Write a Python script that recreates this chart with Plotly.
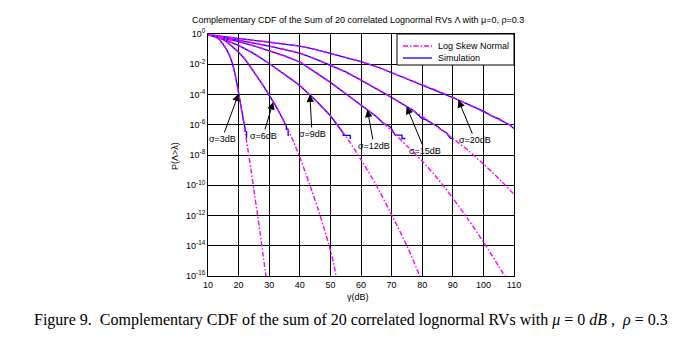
import plotly.graph_objects as go

# ---------------------------------------------------------------
# Complementary CDF curves, gamma in dB, values stored as log10(P)
# ---------------------------------------------------------------
# Log Skew Normal approximation (one curve per sigma)
lsn_x_s3 = [10, 12, 14, 15, 16, 17, 18, 19, 20, 21, 22, 23, 24, 25, 26, 27, 28, 29]
lsn_e_s3 = [-0.02, -0.12, -0.42, -0.68, -1.0, -1.4, -1.95, -2.8, -3.9, -5.1, -6.3,
            -7.6, -8.9, -10.3, -11.7, -13.1, -14.6, -16.1]

lsn_x_s6 = [10, 12, 14, 16, 18, 20, 22, 24, 26, 28, 30, 32, 34, 36, 38, 40, 42, 44,
            46, 48, 50, 51, 52]
lsn_e_s6 = [-0.04, -0.12, -0.26, -0.5, -0.85, -1.2, -1.65, -2.2, -2.8, -3.4, -4.05,
            -4.7, -5.45, -6.25, -7.15, -8.15, -9.25, -10.4, -11.6, -12.9, -14.3,
            -15.1, -16.2]

lsn_x_s9 = [10, 15, 20, 25, 30, 35, 40, 45, 50, 55, 60, 65, 70, 75, 79, 80]
lsn_e_s9 = [-0.05, -0.35, -0.75, -1.3, -1.95, -2.65, -3.4, -4.35, -5.4, -6.75,
            -8.3, -10.0, -11.95, -14.0, -15.9, -16.4]

lsn_x_s12 = [10, 15, 20, 25, 30, 35, 40, 45, 50, 55, 60, 65, 70, 75, 80, 85, 90,
             95, 100, 105, 107.5]
lsn_e_s12 = [-0.05, -0.27, -0.5, -0.78, -1.1, -1.45, -1.85, -2.5, -3.2, -3.95,
             -4.7, -5.45, -6.4, -7.4, -8.4, -9.55, -10.85, -12.25, -13.75, -15.35,
             -16.2]

lsn_x_s15 = [10, 15, 20, 25, 30, 35, 40, 45, 50, 55, 60, 65, 70, 75, 80, 85, 90,
             95, 100, 105, 110]
lsn_e_s15 = [-0.05, -0.22, -0.4, -0.6, -0.8, -1.02, -1.27, -1.65, -2.05, -2.5,
             -3.05, -3.6, -4.2, -4.8, -5.45, -6.15, -6.9, -7.7, -8.6, -9.55, -10.6]

lsn_x_s20 = [10, 15, 20, 25, 30, 35, 40, 45, 50, 55, 60, 65, 70, 75, 80, 85, 90,
             95, 100, 105, 110]
lsn_e_s20 = [-0.04, -0.17, -0.3, -0.42, -0.53, -0.66, -0.8, -1.02, -1.28, -1.55,
             -1.83, -2.15, -2.55, -2.95, -3.35, -3.75, -4.2, -4.65, -5.15, -5.65,
             -6.15]

# Monte-Carlo simulation (stops where the estimate runs out of samples)
sim_x_s3 = [10, 12, 14, 15, 16, 17, 18, 19, 20, 21, 22, 22.3, 22.6, 22.6]
sim_e_s3 = [-0.02, -0.12, -0.42, -0.68, -1.0, -1.4, -1.95, -2.8, -3.9, -5.1, -6.2,
            -6.45, -6.45, -6.9]

sim_x_s6 = [10, 12, 14, 16, 18, 20, 22, 24, 26, 28, 30, 32, 34, 35, 35.6, 35.6,
            36.2, 36.2]
sim_e_s6 = [-0.04, -0.12, -0.26, -0.5, -0.85, -1.2, -1.65, -2.2, -2.8, -3.4, -4.05,
            -4.7, -5.45, -5.85, -6.1, -6.3, -6.3, -6.75]

sim_x_s9 = [10, 15, 20, 25, 30, 35, 40, 45, 50, 52, 54.2, 54.2, 56.5, 56.5]
sim_e_s9 = [-0.05, -0.35, -0.75, -1.3, -1.95, -2.65, -3.4, -4.35, -5.4, -5.95,
            -6.55, -6.7, -6.7, -6.95]

sim_x_s12 = [10, 15, 20, 25, 30, 35, 40, 45, 50, 55, 60, 65, 67, 69.6, 71.2, 73.4,
             73.4, 74.5]
sim_e_s12 = [-0.05, -0.27, -0.5, -0.78, -1.1, -1.45, -1.85, -2.5, -3.2, -3.95,
             -4.7, -5.45, -5.85, -6.15, -6.69, -6.69, -6.91, -6.91]

sim_x_s15 = [10, 15, 20, 25, 30, 35, 40, 45, 50, 55, 60, 65, 70, 75, 77, 80, 81.5,
             83, 85, 86, 88, 89.2, 90]
sim_e_s15 = [-0.05, -0.22, -0.4, -0.6, -0.8, -1.02, -1.27, -1.65, -2.05, -2.5,
             -3.05, -3.6, -4.2, -4.8, -5.05, -5.6, -5.7, -5.9, -6.1, -6.3, -6.55,
             -6.9, -6.9]

sim_x_s20 = [10, 15, 20, 25, 30, 35, 40, 45, 50, 55, 60, 65, 70, 75, 80, 85, 90,
             95, 100, 103, 105, 107, 108.5, 110]
sim_e_s20 = [-0.04, -0.17, -0.3, -0.42, -0.53, -0.66, -0.8, -1.02, -1.28, -1.55,
             -1.83, -2.15, -2.55, -2.95, -3.35, -3.75, -4.2, -4.65, -5.1, -5.45,
             -5.6, -5.85, -6.0, -6.25]

sigma_labels = ["σ=3dB", "σ=6dB", "σ=9dB", "σ=12dB", "σ=15dB", "σ=20dB"]
# arrow tip on each curve (gamma dB, log10 P)
arrow_tip_x = [20.0, 31.3, 43.3, 62.1, 74.9, 91.8]
arrow_tip_e = [-3.95, -4.5, -4.0, -5.0, -4.8, -4.36]

x_ticks = [10, 20, 30, 40, 50, 60, 70, 80, 90, 100, 110]
y_tick_exp = [0, -2, -4, -6, -8, -10, -12, -14, -16]

legend_names = ["Log Skew Normal", "Simulation"]

lsn_sets = [(lsn_x_s3, lsn_e_s3), (lsn_x_s6, lsn_e_s6), (lsn_x_s9, lsn_e_s9),
            (lsn_x_s12, lsn_e_s12), (lsn_x_s15, lsn_e_s15), (lsn_x_s20, lsn_e_s20)]
sim_sets = [(sim_x_s3, sim_e_s3), (sim_x_s6, sim_e_s6), (sim_x_s9, sim_e_s9),
            (sim_x_s12, sim_e_s12), (sim_x_s15, sim_e_s15), (sim_x_s20, sim_e_s20)]

MAGENTA = "#ff00ff"
BLUE = "#0000ff"
SANS = "Liberation Sans, Arial, sans-serif"
DASHDOT = "5px,2px,1.5px,2px"

fig = go.Figure()

for xs, es in sim_sets:
    fig.add_trace(go.Scatter(
        x=xs, y=[10 ** e for e in es], mode="lines",
        line=dict(color=BLUE, width=1.3),
        name=legend_names[1], showlegend=False,
    ))

for xs, es in lsn_sets:
    fig.add_trace(go.Scatter(
        x=xs, y=[10 ** e for e in es], mode="lines",
        line=dict(color=MAGENTA, width=1.4, dash=DASHDOT, shape="spline", smoothing=0.6),
        name=legend_names[0], showlegend=False,
    ))

# plot-area geometry in pixels
W_FIG, H_FIG = 677, 346
L, R, T, B = 208, 163, 34, 70
PW, PH = W_FIG - L - R, H_FIG - T - B


def px_x(px):
    return (px - L) / PW


def px_y(py):
    return (H_FIG - B - py) / PH


# text centres of the sigma labels (pixels)
label_px = [(222, 139), (263, 136), (312, 134), (374, 146), (425, 151), (475, 140)]

annotations = []
for lab, tx, te, (cx, cy) in zip(sigma_labels, arrow_tip_x, arrow_tip_e, label_px):
    tip_px = L + (tx - 10) / 100 * PW
    tip_py = T + (-te) / 16 * PH
    annotations.append(dict(
        x=tx, y=te, xref="x", yref="y", text=lab, showarrow=True,
        ax=cx - tip_px, ay=cy - tip_py, axref="pixel", ayref="pixel",
        arrowhead=2, arrowsize=1.5, arrowwidth=1, arrowcolor="black",
        font=dict(family=SANS, size=9, color="black"),
        standoff=0, startstandoff=0,
    ))


def text_at(text, cx, cy, size=9, family=SANS, xanchor="center", angle=0):
    return dict(text=text, x=px_x(cx), y=px_y(cy), xref="paper", yref="paper",
                xanchor=xanchor, yanchor="middle", textangle=angle, showarrow=False,
                font=dict(family=family, size=size, color="black"))


annotations += [
    text_at("P(Λ>λ)", 175, 156, angle=-90),
    text_at("γ(dB)", 358, 297),
    text_at("Complementary CDF of the Sum of 20 correlated Lognormal RVs Λ with μ=0, ρ=0.3",
            358, 20),
    text_at("Figure 9.  Complementary CDF of the sum of 20 correlated lognormal RVs with "
            "<i>μ</i> = 0 <i>dB</i> ,  <i>ρ</i> = 0.3",
            32, 320, size=16, family="Liberation Serif, Times New Roman, serif",
            xanchor="left"),
    # legend entries
    text_at(legend_names[0], 436, 46, xanchor="left"),
    text_at(legend_names[1], 436, 58, xanchor="left"),
]

# legend box with its two line samples
shapes = [
    dict(type="rect", xref="paper", yref="paper",
         x0=px_x(397), x1=px_x(514), y0=px_y(65), y1=px_y(34),
         fillcolor="white", line=dict(color="black", width=1), layer="above"),
    dict(type="line", xref="paper", yref="paper",
         x0=px_x(403), x1=px_x(432), y0=px_y(46), y1=px_y(46),
         line=dict(color=MAGENTA, width=1.4, dash="5px,2px,1.5px,2px"), layer="above"),
    dict(type="line", xref="paper", yref="paper",
         x0=px_x(403), x1=px_x(432), y0=px_y(58), y1=px_y(58),
         line=dict(color=BLUE, width=1.3), layer="above"),
]

fig.update_layout(
    width=W_FIG, height=H_FIG,
    margin=dict(l=L, r=R, t=T, b=B),
    paper_bgcolor="white", plot_bgcolor="white",
    font=dict(family=SANS, size=9, color="black"),
    xaxis=dict(
        range=[10, 110], tickvals=x_ticks, ticktext=[str(v) for v in x_ticks],
        showgrid=True, gridcolor="black", gridwidth=1,
        showline=True, linecolor="black", linewidth=1, mirror="ticks",
        ticks="inside", ticklen=3, tickcolor="black", zeroline=False,
        tickfont=dict(family=SANS, size=9, color="black"),
    ),
    yaxis=dict(
        type="log", range=[-16, 0],
        tickvals=[10 ** e for e in y_tick_exp],
        ticktext=["10<sup>%d</sup>" % e for e in y_tick_exp],
        showgrid=True, gridcolor="black", gridwidth=1,
        showline=True, linecolor="black", linewidth=1, mirror="ticks",
        ticks="inside", ticklen=3, tickcolor="black", zeroline=False,
        tickfont=dict(family=SANS, size=9, color="black"),
    ),
    annotations=annotations,
    shapes=shapes,
    showlegend=False,
)

fig.write_html("out.html")
